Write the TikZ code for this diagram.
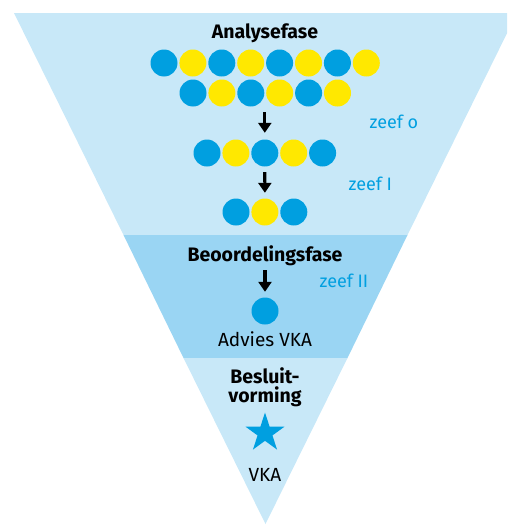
\documentclass[tikz,border=0pt]{standalone}
\usepackage{fontspec}
\setmainfont{Fira Sans}
\usetikzlibrary{arrows.meta, shapes.geometric, positioning}

\definecolor{bandlight}{HTML}{C8E8F8}
\definecolor{bandmid}{HTML}{9AD5F3}
\definecolor{roblue}{HTML}{009FE0}
\definecolor{royellow}{HTML}{FFE800}

\tikzset{
  bol/.style={circle, minimum size=27pt, inner sep=0pt},
  bb/.style={bol, fill=roblue},
  gb/.style={bol, fill=royellow},
  fase/.style={anchor=base, font=\fontsize{19.5}{19}\selectfont\bfseries, align=center},
  zeef/.style={anchor=base west, text=roblue, font=\fontsize{18}{20}\selectfont},
  lbl/.style={anchor=base, font=\fontsize{19}{20}\selectfont},
  pijl/.style={line width=3.2pt, -{Triangle[width=13pt,length=10pt]}},
}

\begin{document}
\begin{tikzpicture}[x=1pt, y=-1pt]
  \useasboundingbox (0,0) rectangle (507,525);
  \clip (0,0) rectangle (507,525);

  % trechter in drie banden
  \fill[bandlight] (14,13) -- (517,13) -- (407.5,235) -- (123.5,235) -- cycle;
  \fill[bandmid] (123.5,235) -- (407.5,235) -- (347.5,358) -- (183.5,358) -- cycle;
  \fill[bandlight] (183.5,358) -- (347.5,358) -- (265.5,524) -- cycle;

  % analysefase
  \node[fase] (analyse) at (265,38) {Analysefase};
  \foreach \k [count=\i from 0] in {bb,gb,bb,gb,bb,gb,bb,gb}
    \node[\k] (r1-\i) at (164+28.9*\i, 63) {};
  \foreach \k [count=\i from 0] in {bb,gb,bb,gb,bb,gb}
    \node[\k] (r2-\i) at (193+28.9*\i, 93) {};
  \foreach \k [count=\i from 0] in {bb,gb,bb,gb,bb}
    \node[\k] (r3-\i) at (207+28.9*\i, 153) {};
  \foreach \k [count=\i from 0] in {bb,gb,bb}
    \node[\k] (r4-\i) at (236+28.9*\i, 212) {};

  \draw[pijl] ([yshift=-5.5pt]r3-2.north |- r2-2.south) -- ([yshift=6.5pt]r3-2.north);
  \draw[pijl] ([yshift=-5.5pt]r3-2.south) -- ([yshift=5.5pt]r4-1.north);

  \node[zeef] (zeef0) at (366,128) {zeef o};
  \node[zeef] (zeef1) at (345,190) {zeef I};

  % beoordelingsfase
  \node[fase] (beoordeling) at (265,261) {Beoordelingsfase};
  \node[bb] (advies) at (265,311) {};
  \coordinate (p3) at (265,270);
  \draw[pijl] (p3) -- ([yshift=5.5pt]advies.north);
  \node[zeef] (zeef2) at (316,287) {zeef II};
  \node[lbl] (adviestxt) at (265,346) {Advies VKA};

  % besluitvorming
  \node[fase] (besluit) at (265,402) {Besluit-\\vorming};
  \node[star, star points=5, star point ratio=2.618, minimum size=41pt,
        inner sep=0pt, fill=roblue] (ster) at (265,433) {};
  \node[lbl] (vka) at (265,481) {VKA};
\end{tikzpicture}
\end{document}
